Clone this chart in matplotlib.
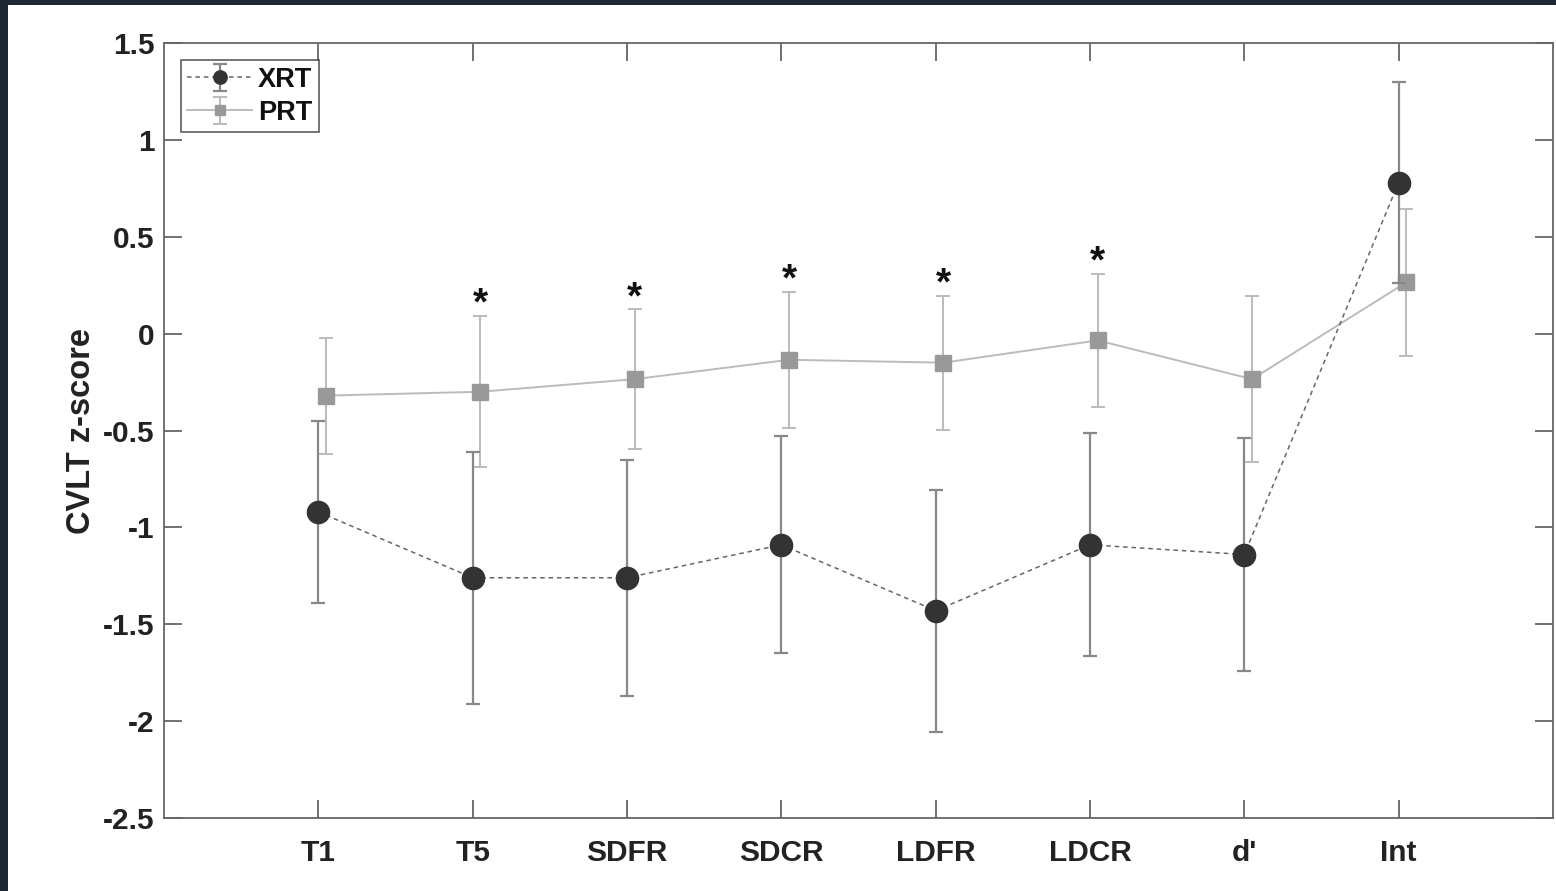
import matplotlib
matplotlib.use('Agg')
import matplotlib.pyplot as plt
import numpy as np
from matplotlib.patches import Rectangle

# CVLT z-scores per measure, mean +/- error
measures = ['T1', 'T5', 'SDFR', 'SDCR', 'LDFR', 'LDCR', "d'", 'Int']
xrt_mean = [-0.92, -1.26, -1.26, -1.09, -1.43, -1.09, -1.14, 0.78]
xrt_err = [0.47, 0.65, 0.61, 0.56, 0.625, 0.575, 0.60, 0.52]
prt_mean = [-0.32, -0.30, -0.235, -0.135, -0.15, -0.035, -0.235, 0.265]
prt_err = [0.30, 0.39, 0.36, 0.35, 0.345, 0.345, 0.43, 0.38]
# measures with a significant group difference
signif = ['T5', 'SDFR', 'SDCR', 'LDFR', 'LDCR']

plt.rcParams['font.family'] = ['Liberation Sans', 'DejaVu Sans']
plt.rcParams['font.weight'] = 'bold'

fig = plt.figure(figsize=(15.56, 8.91), dpi=100)
ax = fig.add_axes([164 / 1556, 1 - 818 / 891, (1553 - 164) / 1556, (818 - 43) / 891])

x = np.arange(1, len(measures) + 1)
prt_offset = 0.05

xrt = ax.errorbar(x, xrt_mean, yerr=xrt_err, fmt='o', linestyle=(0, (3, 2.5)),
                  color='#666666', ecolor='#888888', elinewidth=1.6, capsize=5, capthick=1.6,
                  markersize=16, markerfacecolor='#333333', markeredgecolor='#333333',
                  linewidth=1.1, label='XRT', zorder=3)
prt = ax.errorbar(x + prt_offset, prt_mean, yerr=prt_err, fmt='s', linestyle='-',
                  color='#bbbbbb', ecolor='#bbbbbb', elinewidth=1.4, capsize=5, capthick=1.4,
                  markersize=12, markerfacecolor='#999999', markeredgecolor='#999999',
                  linewidth=1.4, label='PRT', zorder=2)

for name in signif:
    i = measures.index(name)
    ax.text(x[i] + prt_offset, prt_mean[i] + prt_err[i] - 0.035, '*', ha='center', va='bottom',
            fontsize=28, fontweight='bold', color='#111111')

ax.set_xlim(0, 9)
ax.set_ylim(-2.5, 1.5)
ax.set_xticks(x)
ax.set_xticklabels(measures)
ax.set_yticks([-2.5, -2, -1.5, -1, -0.5, 0, 0.5, 1, 1.5])
ax.set_yticklabels(['-2.5', '-2', '-1.5', '-1', '-0.5', '0', '0.5', '1', '1.5'])
ax.tick_params(direction='in', length=13, width=1.3, color='#666666', top=True, right=True,
               labelsize=21.5, labelcolor='#222222')
ax.tick_params(axis='x', pad=15)
ax.tick_params(axis='y', pad=7)
for lab in ax.get_xticklabels() + ax.get_yticklabels():
    lab.set_fontweight('bold')
for sp in ax.spines.values():
    sp.set_color('#666666')
    sp.set_linewidth(1.3)

ax.set_ylabel('CVLT z-score', fontsize=23.5, fontweight='bold', color='#222222', labelpad=4)

leg = ax.legend(handles=[xrt, prt], loc='upper left', bbox_to_anchor=(0.012, 0.978),
                fontsize=19.5, frameon=True, fancybox=False, borderpad=0.25, handlelength=2.4,
                handletextpad=0.2, labelspacing=0.25, borderaxespad=0, markerscale=0.6)
leg.get_frame().set_edgecolor('#333333')
leg.get_frame().set_linewidth(1.2)
for t in leg.get_texts():
    t.set_fontweight('bold')
    t.set_color('#111111')

# dark frame along the top and left edges
fig.patches.append(Rectangle((0, 1 - 5 / 891), 1, 5 / 891, transform=fig.transFigure,
                             facecolor='#1f2633', edgecolor='none', zorder=10))
fig.patches.append(Rectangle((0, 0), 8 / 1556, 1, transform=fig.transFigure,
                             facecolor='#1f2633', edgecolor='none', zorder=10))

fig.savefig('out.png', dpi=100, facecolor='white')
